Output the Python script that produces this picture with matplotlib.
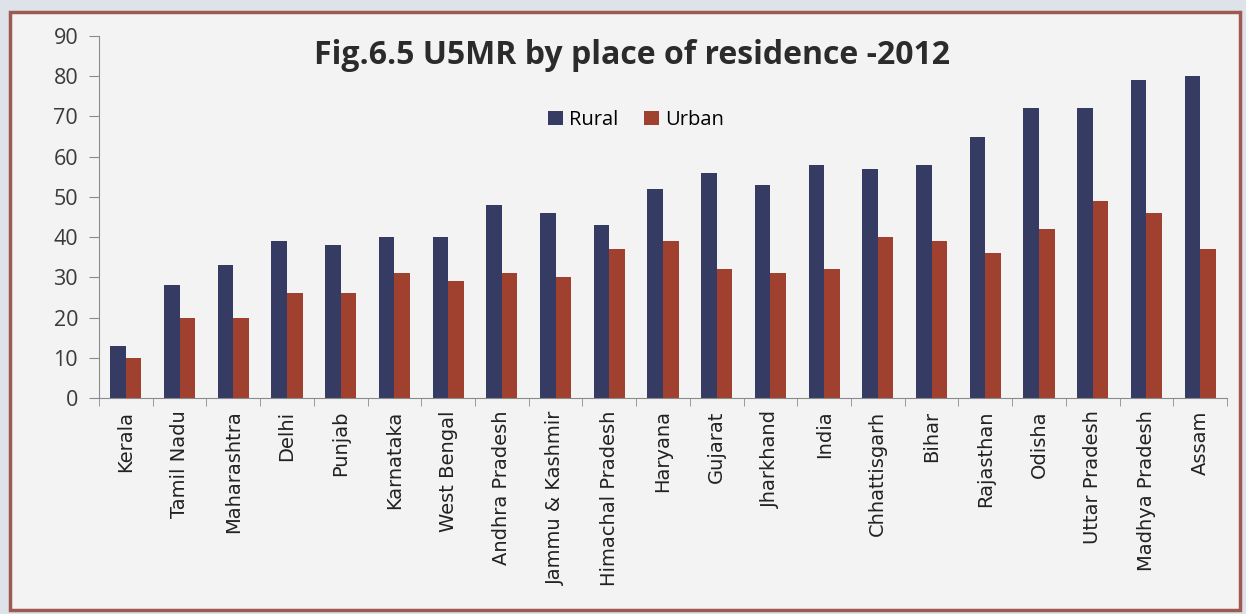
import matplotlib
matplotlib.use('Agg')
import matplotlib.pyplot as plt
import matplotlib.patches as patches
import numpy as np

states = ['Kerala', 'Tamil Nadu', 'Maharashtra', 'Delhi', 'Punjab', 'Karnataka',
          'West Bengal', 'Andhra Pradesh', 'Jammu & Kashmir', 'Himachal Pradesh',
          'Haryana', 'Gujarat', 'Jharkhand', 'India', 'Chhattisgarh', 'Bihar',
          'Rajasthan', 'Odisha', 'Uttar Pradesh', 'Madhya Pradesh', 'Assam']
rural = [13, 28, 33, 39, 38, 40, 40, 48, 46, 43, 52, 56, 53, 58, 57, 58, 65, 72, 72, 79, 80]
urban = [10, 20, 20, 26, 26, 31, 29, 31, 30, 37, 39, 32, 31, 32, 40, 39, 36, 42, 49, 46, 37]
yticks = list(range(0, 100, 10))


def main():
    plt.rcParams['font.family'] = ['Open Sans', 'DejaVu Sans']
    fig = plt.figure(figsize=(12.46, 6.14), dpi=100)
    fig.patch.set_facecolor('#dde3e9')

    # chart frame, drawn behind the axes
    frame = patches.Rectangle((10 / 1246, 4 / 614), 1230 / 1246, 598 / 614,
                              transform=fig.transFigure, facecolor='#f3f3f3',
                              edgecolor='#9e5a52', linewidth=2.5, zorder=-10)
    fig.patches.append(frame)

    ax = fig.add_axes([99 / 1246, 1 - 398 / 614, (1227 - 99) / 1246, (398 - 36) / 614])
    ax.set_facecolor('none')
    ax.set_zorder(5)

    x = np.arange(len(states))
    w = 0.29
    ax.bar(x - w / 2, rural, w, color='#353b62', label='Rural')
    ax.bar(x + w / 2, urban, w, color='#a0402f', label='Urban')

    ax.set_xlim(-0.5, len(states) - 0.5)
    ax.set_ylim(0, 90)
    ax.set_yticks(yticks)
    ax.tick_params(axis='y', labelsize=15.5, colors='#3a3a3a', length=7, pad=8, color='#8a8a8a')
    ax.set_xticks(x)
    ax.set_xticklabels(states, rotation=90, fontsize=14, color='#222222',
                       family=['DejaVu Sans'])
    ax.tick_params(axis='x', length=0, pad=9)
    ax.set_xticks(np.arange(-0.5, len(states)), minor=True)
    ax.tick_params(axis='x', which='minor', length=6, color='#8a8a8a')

    for s in ['top', 'right']:
        ax.spines[s].set_visible(False)
    ax.spines['left'].set_color('#8a8a8a')
    ax.spines['bottom'].set_color('#8a8a8a')

    fig.text(632 / 1246, 1 - 56 / 614, 'Fig.6.5 U5MR by place of residence -2012',
             ha='center', va='center', fontsize=23, fontweight='bold', color='#2b2b2b',
             zorder=10)

    ax.legend(loc='center', bbox_to_anchor=((636 - 99) / 1128, (398 - 120) / 362), ncol=2,
              frameon=False, fontsize=14.5, handlelength=0.75, handleheight=0.75,
              handletextpad=0.3, columnspacing=1.3)

    plt.savefig('out.png', dpi=100, facecolor=fig.get_facecolor())


if __name__ == '__main__':
    main()
